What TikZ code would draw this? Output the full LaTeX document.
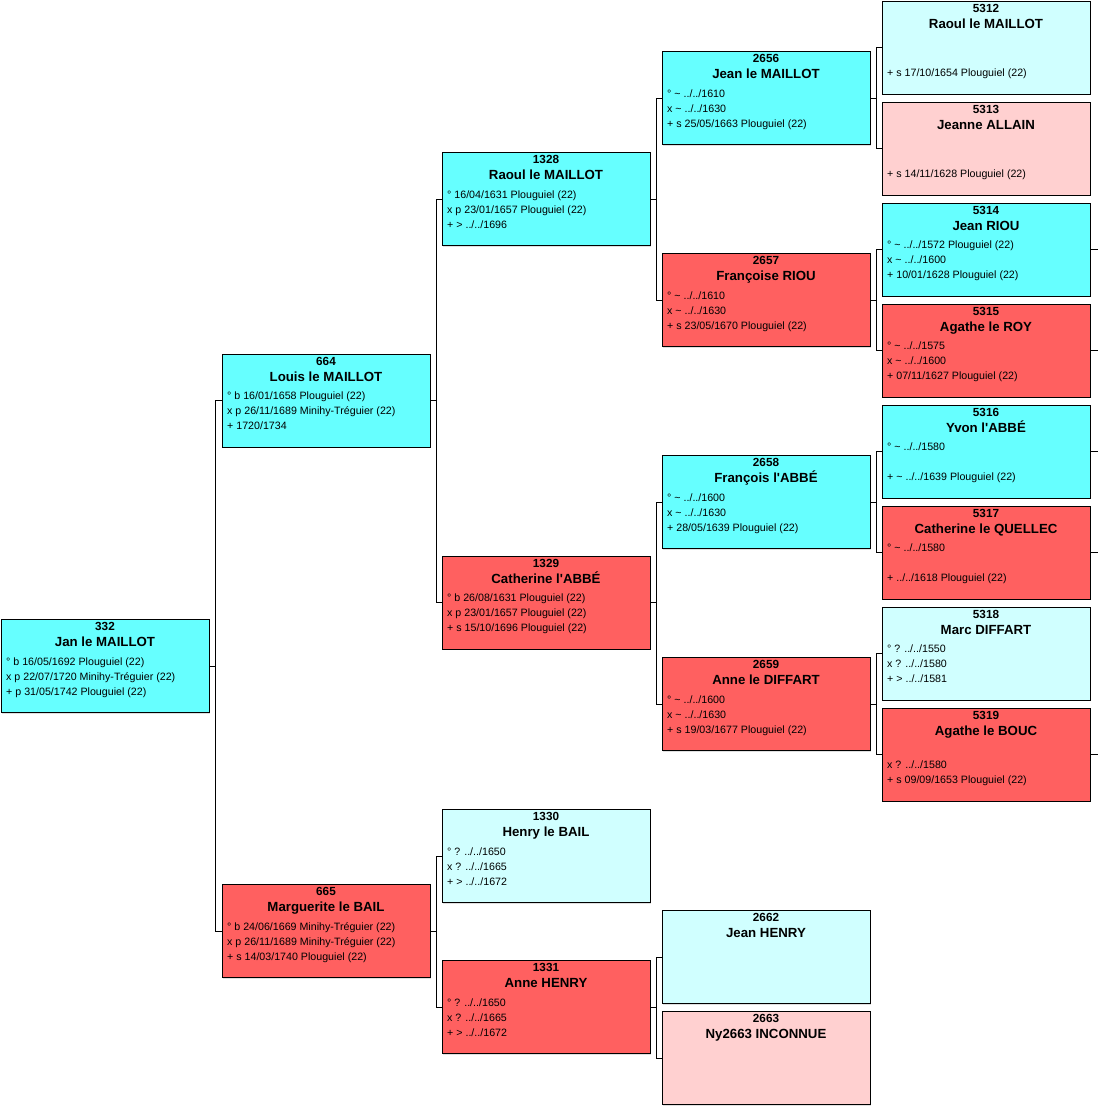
\documentclass[tikz,border=0pt]{standalone}
\usepackage{fontspec}
\setmainfont{Liberation Sans}
\usepackage{xcolor}
\definecolor{mancyan}{RGB}{102,255,255}
\definecolor{womanred}{RGB}{255,96,96}
\definecolor{palecyan}{RGB}{208,255,255}
\definecolor{palepink}{RGB}{255,208,208}
\usepackage{tikz}
\usetikzlibrary{calc}
\usetikzlibrary{shadows}
\newcommand{\abt}{\textasciitilde}
\newcommand{\apo}{\textquotesingle}
\newcommand{\fact}[3]{%
  \if\relax\detokenize{#3}\relax\else
    \node[fact] (#1-l#2) at ($(#1.north west)+(5,{30.5+15*#2})$) {#3};
  \fi}
\newcommand{\person}[8]{%
  \node[#1] (p#2) at (#3,#4) {};
  \node[sosa] (p#2-sosa) at ($(p#2.north)+(0,11)$) {#2};
  \node[who] (p#2-name) at ($(p#2.north)+(0,27.3)$) {#5};
  \fact{p#2}{1}{#6}\fact{p#2}{2}{#7}\fact{p#2}{3}{#8}}
\tikzset{
    box/.style={anchor=north west, draw, rectangle, line width=0.8bp, minimum width=208bp, minimum height=93bp,
      inner sep=0pt, outer sep=0pt, drop shadow={shadow xshift=1.2bp, shadow yshift=-1.2bp, fill=black!25}},
    male/.style={box, fill=mancyan},
    female/.style={box, fill=womanred},
    palemale/.style={box, fill=palecyan},
    palefemale/.style={box, fill=palepink},
    sosa/.style={anchor=base, inner sep=0pt, font=\bfseries\fontsize{11.8}{14}\selectfont},
    who/.style={anchor=base, inner sep=0pt, font=\bfseries\fontsize{13.3}{16}\selectfont},
    fact/.style={anchor=base west, inner sep=0pt, font=\fontsize{10.7}{13}\selectfont},
    link/.style={line width=0.8bp}
}
\begin{document}
\begin{tikzpicture}[x=1bp, y=-1bp]
  \useasboundingbox (0,0) rectangle (1098,1112);

  \person{male}{332}{1}{619.5}{Jan le MAILLOT}{° b 16/05/1692 Plouguiel (22)}{x p 22/07/1720 Minihy-Tréguier (22)}{+ p 31/05/1742 Plouguiel (22)}

  \person{male}{664}{222}{354}{Louis le MAILLOT}{° b 16/01/1658 Plouguiel (22)}{x p 26/11/1689 Minihy-Tréguier (22)}{+ 1720/1734}
  \person{female}{665}{222}{884.5}{Marguerite le BAIL}{° b 24/06/1669 Minihy-Tréguier (22)}{x p 26/11/1689 Minihy-Tréguier (22)}{+ s 14/03/1740 Plouguiel (22)}

  \person{male}{1328}{442}{152.5}{Raoul le MAILLOT}{° 16/04/1631 Plouguiel (22)}{x p 23/01/1657 Plouguiel (22)}{+ > ../../1696}
  \person{female}{1329}{442}{556}{Catherine l\apo ABBÉ}{° b 26/08/1631 Plouguiel (22)}{x p 23/01/1657 Plouguiel (22)}{+ s 15/10/1696 Plouguiel (22)}
  \person{palemale}{1330}{442}{809.5}{Henry le BAIL}{° ? ../../1650}{x ? ../../1665}{+ > ../../1672}
  \person{female}{1331}{442}{960.5}{Anne HENRY}{° ? ../../1650}{x ? ../../1665}{+ > ../../1672}

  \person{male}{2656}{662}{51.5}{Jean le MAILLOT}{° \abt{} ../../1610}{x \abt{} ../../1630}{+ s 25/05/1663 Plouguiel (22)}
  \person{female}{2657}{662}{253.5}{Françoise RIOU}{° \abt{} ../../1610}{x \abt{} ../../1630}{+ s 23/05/1670 Plouguiel (22)}
  \person{male}{2658}{662}{455.5}{François l\apo ABBÉ}{° \abt{} ../../1600}{x \abt{} ../../1630}{+ 28/05/1639 Plouguiel (22)}
  \person{female}{2659}{662}{657.5}{Anne le DIFFART}{° \abt{} ../../1600}{x \abt{} ../../1630}{+ s 19/03/1677 Plouguiel (22)}
  \person{palemale}{2662}{662}{910.5}{Jean HENRY}{}{}{}
  \person{palefemale}{2663}{662}{1011.5}{Ny2663 INCONNUE}{}{}{}

  \person{palemale}{5312}{882}{1}{Raoul le MAILLOT}{}{}{+ s 17/10/1654 Plouguiel (22)}
  \person{palefemale}{5313}{882}{102}{Jeanne ALLAIN}{}{}{+ s 14/11/1628 Plouguiel (22)}
  \person{male}{5314}{882}{203}{Jean RIOU}{° \abt{} ../../1572 Plouguiel (22)}{x \abt{} ../../1600}{+ 10/01/1628 Plouguiel (22)}
  \person{female}{5315}{882}{304}{Agathe le ROY}{° \abt{} ../../1575}{x \abt{} ../../1600}{+ 07/11/1627 Plouguiel (22)}
  \person{male}{5316}{882}{405}{Yvon l\apo ABBÉ}{° \abt{} ../../1580}{}{+ \abt{} ../../1639 Plouguiel (22)}
  \person{female}{5317}{882}{506}{Catherine le QUELLEC}{° \abt{} ../../1580}{}{+ ../../1618 Plouguiel (22)}
  \person{palemale}{5318}{882}{607}{Marc DIFFART}{° ? ../../1550}{x ? ../../1580}{+ > ../../1581}
  \person{female}{5319}{882}{708}{Agathe le BOUC}{}{x ? ../../1580}{+ s 09/09/1653 Plouguiel (22)}

  \foreach \kid/\dad/\mum in {332/664/665, 664/1328/1329, 665/1330/1331, 1328/2656/2657, 1329/2658/2659,
      1331/2662/2663, 2656/5312/5313, 2657/5314/5315, 2658/5316/5317, 2659/5318/5319} {
    \draw[link] (p\kid.east) -- ++(6.5,0) coordinate (j\kid);
    \draw[link] (p\dad.west) -| (j\kid) |- (p\mum.west);
  }
  \foreach \s in {5314,5315,5316,5317,5319}
    \draw[link] (p\s.east) -- ++(8,0) coordinate (q\s);
\end{tikzpicture}
\end{document}
